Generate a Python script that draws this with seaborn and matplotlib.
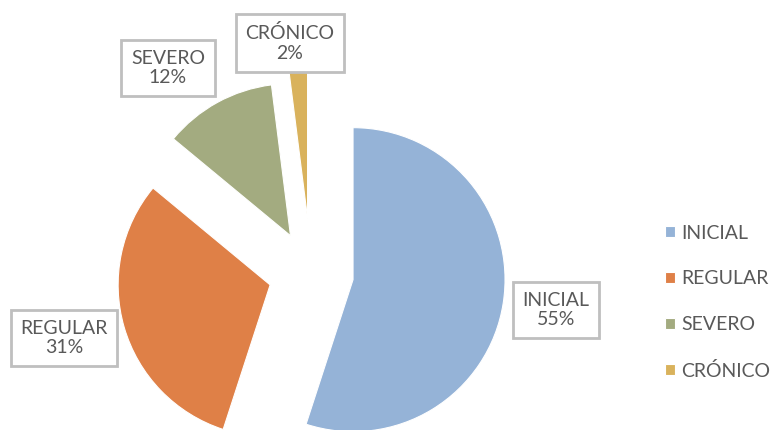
import matplotlib
matplotlib.use("Agg")
import matplotlib.pyplot as plt
import seaborn as sns

categories = ["INICIAL", "REGULAR", "SEVERO", "CRÓNICO"]
values = [55, 31, 12, 2]
colors = ["#95B3D7", "#DF8047", "#A3AB80", "#D9B25C"]
explode = [0.28, 0.28, 0.28, 0.36]

sns.set_theme(style="white")
plt.rcParams["font.family"] = ["Lato", "DejaVu Sans"]

W, H = 780, 430
fig = plt.figure(figsize=(W / 100, H / 100), dpi=100)
ax = fig.add_axes([0, 0, 1, 1])

R = 152.0
cx, cy = 311.0, 273.0
wedges, _ = ax.pie(values, colors=colors, explode=explode, startangle=90,
                   counterclock=False, radius=1.0,
                   wedgeprops=dict(linewidth=0.8, edgecolor="white"))
ax.set_xlim(-cx / R, (W - cx) / R)
ax.set_ylim(-(H - cy) / R, cy / R)
ax.set_aspect("auto")
ax.axis("off")

text_color = "#595959"
label_pos = {  # pixel centers of label boxes
    "INICIAL": (556, 310),
    "REGULAR": (64, 338),
    "SEVERO": (168, 68),
    "CRÓNICO": (290, 43),
}
for cat, val in zip(categories, values):
    px, py = label_pos[cat]
    fig.text(px / W, 1 - py / H, f"{cat}\n{val}%", ha="center", va="center",
             fontsize=14, color=text_color, linespacing=1.2,
             bbox=dict(boxstyle="square,pad=0.5", facecolor="white",
                       edgecolor="#BFBFBF", linewidth=2.0))

leg = fig.legend(wedges, categories, loc="upper left",
                 bbox_to_anchor=(657 / W, 1 - 217 / H), frameon=False,
                 fontsize=14, labelcolor=text_color, handlelength=0.5,
                 handleheight=0.5, handletextpad=0.35, labelspacing=1.47,
                 borderaxespad=0)

fig.savefig("out.png", dpi=100)
